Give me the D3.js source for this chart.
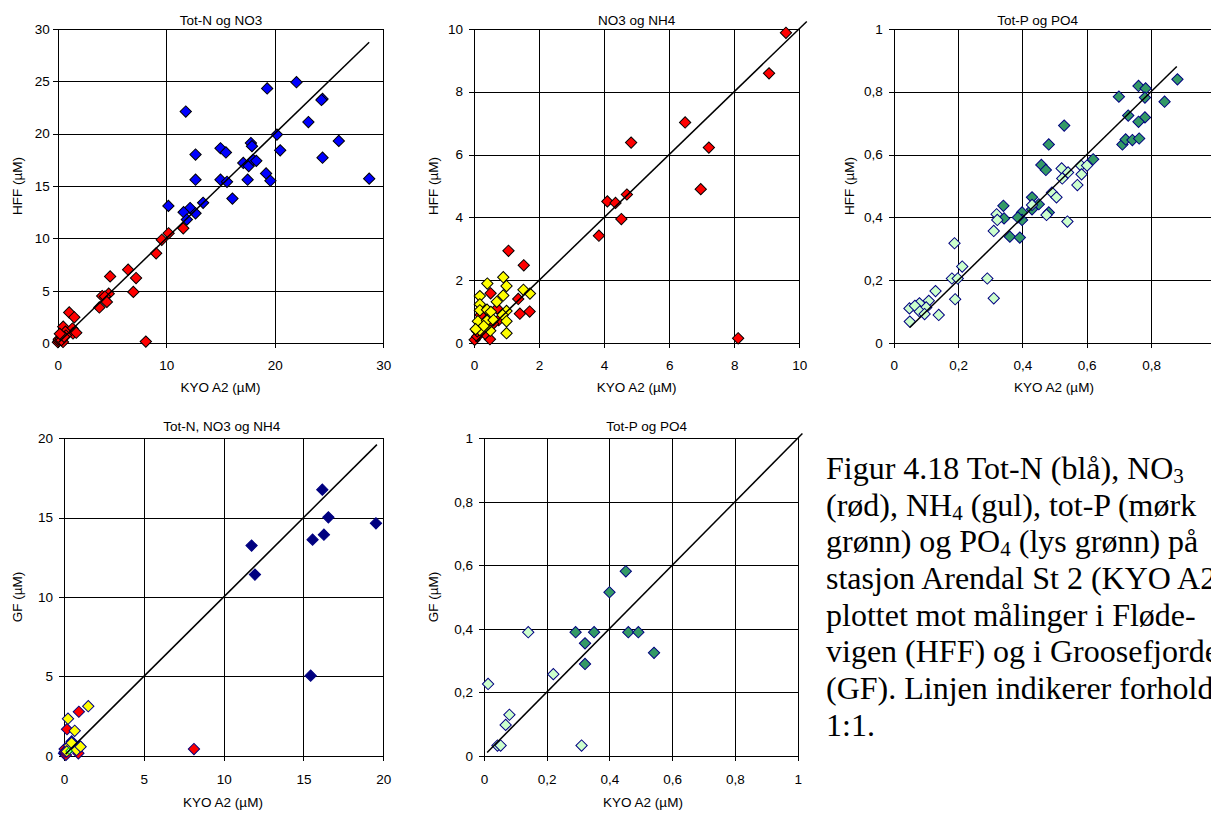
<!DOCTYPE html>
<html><head><meta charset="utf-8">
<script src="https://cdn.jsdelivr.net/npm/d3@7"></script>
<style>
body{margin:0;background:#fff;overflow:hidden}
svg{display:block}
text{font-family:"Liberation Sans",Arial,sans-serif;fill:#000}
</style>
</head><body>
<script>
// ---------------- DATA ----------------
// HFF vs KYO A2
const hffTotN = [[11.8,22.1],[19.3,24.3],[22.0,24.9],[24.4,23.3],[24.3,23.2],[23.1,21.1],[20.2,19.9],[25.9,19.3],[17.8,19.1],[17.9,18.8],[20.5,18.4],[15.0,18.6],[15.5,18.2],[12.7,18.0],[17.1,17.2],[17.6,16.9],[18.0,17.5],[18.3,17.4],[24.4,17.7],[19.2,16.2],[19.6,15.5],[28.7,15.7],[12.7,15.6],[15.0,15.6],[17.5,15.6],[15.6,15.4],[16.1,13.8],[13.4,13.4],[10.2,13.1],[12.2,12.9],[11.6,12.5],[12.7,12.4],[11.9,11.8]];
const hffNO3 = [[11.57,10.96],[10.22,10.49],[9.59,9.87],[9.07,8.58],[6.49,7.02],[4.83,6.38],[7.22,6.22],[6.97,4.90],[4.70,4.73],[4.10,4.51],[4.35,4.46],[4.53,3.95],[3.84,3.42],[1.06,2.94],[1.53,2.48],[8.12,0.16],[0.51,1.59],[1.36,1.41],[1.41,0.94],[1.71,1.01],[0.71,1.11],[0.76,0.74],[0.49,0.13],[0.02,0.11],[0.10,0.22],[0.10,0.38],[0.26,0.42],[0.34,0.30],[0.59,0.62],[0.20,0.90]];
const hffNH4 = [[0.41,1.90],[0.90,2.10],[1.00,1.82],[0.18,1.50],[0.90,1.52],[1.52,1.70],[1.72,1.58],[0.70,1.32],[0.18,1.24],[0.18,1.05],[0.40,1.07],[1.00,1.03],[0.52,1.00],[0.88,0.90],[1.00,0.70],[0.12,0.70],[0.40,0.72],[0.60,0.74],[0.18,0.42],[0.50,0.40],[1.00,0.32],[0.30,0.55],[0.05,0.45]];
const hffTotP = [[0.882,0.839],[0.761,0.818],[0.783,0.810],[0.700,0.784],[0.781,0.781],[0.842,0.768],[0.729,0.724],[0.781,0.718],[0.761,0.704],[0.530,0.692],[0.482,0.632],[0.711,0.632],[0.721,0.648],[0.742,0.646],[0.763,0.651],[0.620,0.585],[0.459,0.567],[0.473,0.551],[0.430,0.464],[0.451,0.442],[0.430,0.426],[0.341,0.437],[0.343,0.397],[0.399,0.416],[0.399,0.392],[0.386,0.400],[0.482,0.416],[0.361,0.339],[0.392,0.336]];
const hffPO4 = [[0.522,0.556],[0.542,0.543],[0.582,0.565],[0.601,0.565],[0.584,0.537],[0.524,0.524],[0.571,0.503],[0.492,0.479],[0.506,0.464],[0.430,0.440],[0.475,0.408],[0.540,0.387],[0.320,0.410],[0.322,0.392],[0.311,0.357],[0.189,0.318],[0.213,0.244],[0.181,0.206],[0.199,0.206],[0.291,0.206],[0.191,0.140],[0.311,0.143],[0.130,0.166],[0.109,0.135],[0.080,0.127],[0.049,0.111],[0.066,0.119],[0.101,0.114],[0.081,0.101],[0.096,0.093],[0.140,0.090],[0.050,0.069]];
// GF vs KYO A2
const gfTotN = [[16.18,16.76],[16.56,15.02],[19.54,14.64],[15.57,13.61],[16.28,13.93],[11.75,13.24],[11.96,11.41],[15.45,5.04],[0.0,0.15],[0.17,0.50],[1.0,0.57],[0.48,0.90]];
const gfNO3 = [[0.93,2.77],[0.19,1.67],[8.14,0.42],[0.12,0.05],[0.04,0.42],[0.90,0.15],[0.06,0.25]];
const gfNH4 = [[1.52,3.12],[0.25,2.33],[0.67,1.57],[0.33,0.63],[0.79,0.36],[1.04,0.57],[0.48,0.80],[0.17,0.27]];
const gfExtra = [[0.31,0.30]];
const gfTotP = [[0.452,0.581],[0.400,0.515],[0.292,0.389],[0.351,0.389],[0.460,0.389],[0.492,0.389],[0.322,0.354],[0.542,0.324],[0.322,0.289]];
const gfPO4 = [[0.141,0.389],[0.221,0.257],[0.013,0.226],[0.081,0.129],[0.069,0.097],[0.043,0.032],[0.053,0.032],[0.311,0.032]];
// 1:1 line extents
const line1 = [0.1, 28.7], line2 = [0.05, 10.23], line3 = [0.05, 0.88], line4 = [0.1, 19.6], line5 = [0.01, 1.015];
// ticks
const ticksN30 = [0,10,20,30], ticksN30y = [0,5,10,15,20,25,30];
const ticks10 = [0,2,4,6,8,10];
const ticksP = [0,0.2,0.4,0.6,0.8,1];
const ticksPvisible = [0,0.2,0.4,0.6,0.8];
const ticks20 = [0,5,10,15,20];
const titles = ["Tot-N og NO3","NO3 og NH4","Tot-P og PO4","Tot-N, NO3 og NH4","Tot-P og PO4"];
const xLabel = "KYO A2 (µM)";
const yLabels = ["HFF (µM)","HFF (µM)","HFF (µM)","GF (µM)","GF (µM)"];
const captionLines = [
  [["Figur 4.18 Tot-N (blå), NO"],["3",1]],
  [["(rød), NH"],["4",1],[" (gul), tot-P (mørk"]],
  [["grønn) og PO"],["4",1],[" (lys grønn) på"]],
  [["stasjon Arendal St 2 (KYO A2"]],
  [["plottet mot målinger i Fløde-"]],
  [["vigen (HFF) og i Groosefjorde"]],
  [["(GF). Linjen indikerer forhold"]],
  [["1:1."]]
];

// ---------------- LAYOUT ----------------
const navy = "#000080";
const panels = [
  {ti:0, xMax:30, yMax:30, xT:ticksN30, yT:ticksN30y, L:57.7, R:383.3, T:28.7, B:343.3, gap:8,
   titleX:221, titleY:25, tickY:370, xtX:220.5, xtY:392, ytX:21.7, line:line1,
   series:[{d:hffTotN, f:"#0000FF", s:"#000"},{d:hffNO3, f:"#FF0000", s:"#000"}]},
  {ti:1, xMax:10, yMax:10, xT:ticks10, yT:ticks10, L:474, R:799.3, T:28.7, B:343.3, gap:11,
   titleX:636.7, titleY:25, tickY:370, xtX:636.7, xtY:392, ytX:438.3, line:line2,
   series:[{d:hffNO3, f:"#FF0000", s:"#000"},{d:hffNH4, f:"#FFFF00", s:"#000"}]},
  {ti:2, xMax:1, yMax:1, xT:ticksPvisible, xG:ticksP, yT:ticksP, L:893.7, R:1215.4, T:28.7, B:343.3, gap:11,
   titleX:1037.7, titleY:25, tickY:370, xtX:1054, xtY:392, ytX:854.3, line:line3,
   series:[{d:hffTotP, f:"#339966", s:navy},{d:hffPO4, f:"#CCFFCC", s:navy}]},
  {ti:3, xMax:20, yMax:20, xT:ticks20, yT:ticks20, L:64, R:383.3, T:438.3, B:755.7, gap:11,
   titleX:221.7, titleY:431, tickY:784, xtX:223, xtY:807, ytX:21.7, line:line4,
   series:[{d:gfTotN, f:navy, s:navy},{d:gfNO3, f:"#FF0000", s:navy},{d:gfNH4, f:"#FFFF00", s:navy},{d:gfExtra, f:"#CCFFCC", s:"#00CC00", size:20}]},
  {ti:4, xMax:1, yMax:1, xT:ticksP, yT:ticksP, L:484, R:797.7, T:438.3, B:755.7, gap:11,
   titleX:646.7, titleY:431, tickY:784, xtX:643, xtY:807, ytX:438.3, line:line5,
   series:[{d:gfTotP, f:"#339966", s:navy},{d:gfPO4, f:"#CCFFCC", s:navy}]}
];

const W = 1211, H = 814, FS = 13.5;
const svg = d3.select("body").append("svg").attr("width", W).attr("height", H);
const fmt = v => (+v.toFixed(1)).toString().replace(".", ",");

panels.forEach(p => {
  const x = d3.scaleLinear().domain([0, p.xMax]).range([p.L, p.R]);
  const y = d3.scaleLinear().domain([0, p.yMax]).range([p.B, p.T]);
  const g = svg.append("g");

  // gridlines
  const gx = g.append("g").attr("transform", `translate(0,${p.T})`)
    .call(d3.axisBottom(x).tickValues(p.xG || p.xT).tickSize(p.B - p.T).tickFormat(""));
  const gy = g.append("g").attr("transform", `translate(${p.L},0)`)
    .call(d3.axisRight(y).tickValues(p.yT).tickSize(p.R - p.L).tickFormat(""));
  [gx, gy].forEach(a => {
    a.select(".domain").remove();
    a.selectAll("line").attr("stroke", "#000").attr("stroke-width", 1).attr("shape-rendering", "crispEdges");
  });

  // axes
  const ax = g.append("g").attr("transform", `translate(0,${p.B})`)
    .call(d3.axisBottom(x).tickValues(p.xT).tickSize(5).tickSizeOuter(0).tickFormat(fmt));
  const ay = g.append("g").attr("transform", `translate(${p.L},0)`)
    .call(d3.axisLeft(y).tickValues(p.yT).tickSize(5).tickSizeOuter(0).tickPadding(p.gap - 5).tickFormat(fmt));
  [ax, ay].forEach(a => {
    a.select(".domain").attr("stroke", "#000").attr("shape-rendering", "crispEdges");
    a.selectAll("line").attr("stroke", "#000").attr("shape-rendering", "crispEdges");
    a.selectAll("text").attr("font-family", '"Liberation Sans",Arial,sans-serif').attr("font-size", FS).attr("fill", "#000");
  });
  ax.selectAll("text").attr("dy", null).attr("y", p.tickY - p.B);

  // markers
  const sym = d3.symbol().type(d3.symbolSquare);
  p.series.forEach(s => {
    const pts = s.d.filter(d => d[0] <= p.xMax && d[1] <= p.yMax);
    g.append("g").selectAll("path").data(pts).join("path")
      .attr("d", sym.size(s.size || 64)())
      .attr("transform", d => `translate(${x(d[0])},${y(d[1])}) rotate(45)`)
      .attr("fill", s.f).attr("stroke", s.s).attr("stroke-width", 1);
  });

  // 1:1 line
  g.append("line")
    .attr("x1", x(p.line[0])).attr("y1", y(p.line[0]))
    .attr("x2", x(p.line[1])).attr("y2", y(p.line[1]))
    .attr("stroke", "#000").attr("stroke-width", 1.5);

  // texts
  g.append("text").attr("x", p.titleX).attr("y", p.titleY).attr("text-anchor", "middle")
    .attr("font-size", FS).text(titles[p.ti]);
  g.append("text").attr("x", p.xtX).attr("y", p.xtY).attr("text-anchor", "middle")
    .attr("font-size", FS).text(xLabel);
  g.append("text").attr("transform", `translate(${p.ytX},${(p.T + p.B) / 2}) rotate(-90)`)
    .attr("text-anchor", "middle").attr("font-size", FS).text(yLabels[p.ti]);
});

// caption
const cap = svg.append("text").attr("x", 826).attr("y", 479)
  .style("font-family", '"Liberation Serif","Times New Roman",serif').attr("font-size", 32);
captionLines.forEach((line, i) => {
  line.forEach((seg, j) => {
    const t = cap.append("tspan").text(seg[0]);
    if (j === 0) t.attr("x", 826).attr("y", 479 + i * 36.67);
    if (seg[1]) t.attr("font-size", 21).attr("dy", 4);
    else if (j > 0 && line[j - 1][1]) t.attr("dy", -4);
  });
});
</script>
</body></html>
